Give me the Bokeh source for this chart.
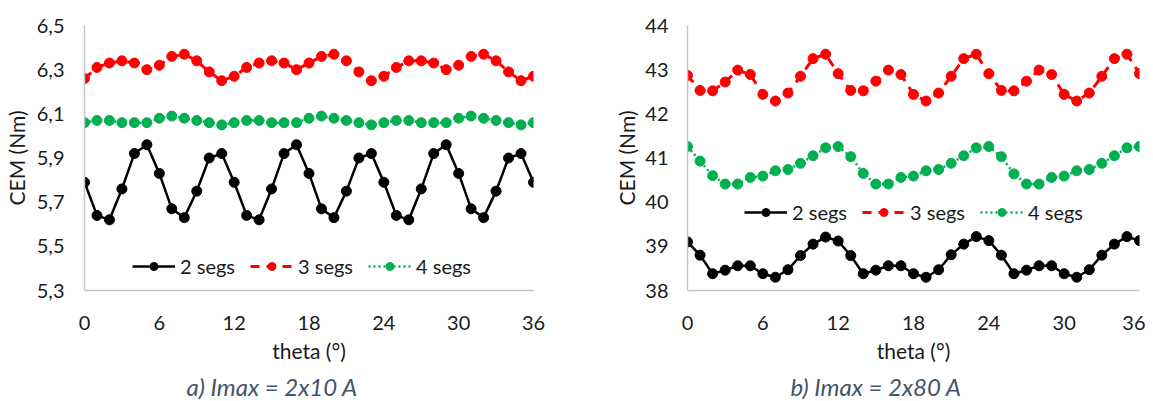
from bokeh.plotting import figure
from bokeh.layouts import row, column
from bokeh.models import (FixedTicker, CustomJSTickFormatter, Legend, LegendItem,
                          Range1d, ColumnDataSource)
from bokeh.core.properties import value
from bokeh.embed import file_html
from bokeh.resources import INLINE

theta = list(range(0, 37))

# a) Imax = 2x10 A
a_2segs = [5.79, 5.64, 5.62, 5.76, 5.92, 5.96, 5.83, 5.67, 5.63, 5.75, 5.90, 5.92,
           5.79, 5.64, 5.62, 5.76, 5.92, 5.96, 5.83, 5.67, 5.63, 5.75, 5.90, 5.92,
           5.79, 5.64, 5.62, 5.76, 5.92, 5.96, 5.83, 5.67, 5.63, 5.75, 5.90, 5.92, 5.79]
a_3segs = [6.26, 6.31, 6.33, 6.34, 6.33, 6.30, 6.32, 6.36, 6.37, 6.34, 6.29, 6.25,
           6.27, 6.31, 6.33, 6.34, 6.33, 6.30, 6.33, 6.36, 6.37, 6.34, 6.29, 6.25,
           6.27, 6.31, 6.34, 6.34, 6.33, 6.30, 6.32, 6.36, 6.37, 6.34, 6.29, 6.25, 6.27]
a_4segs = [6.06, 6.07, 6.07, 6.06, 6.06, 6.06, 6.08, 6.09, 6.08, 6.07, 6.06, 6.05,
           6.06, 6.07, 6.07, 6.06, 6.06, 6.06, 6.08, 6.09, 6.08, 6.07, 6.06, 6.05,
           6.06, 6.07, 6.07, 6.06, 6.06, 6.06, 6.08, 6.09, 6.08, 6.07, 6.06, 6.05, 6.06]

# b) Imax = 2x80 A
b_2segs = [39.10, 38.80, 38.38, 38.46, 38.56, 38.56, 38.38, 38.30, 38.47, 38.79, 39.05, 39.21,
           39.12, 38.79, 38.38, 38.46, 38.56, 38.56, 38.38, 38.30, 38.47, 38.81, 39.05, 39.22,
           39.13, 38.80, 38.38, 38.46, 38.56, 38.56, 38.38, 38.30, 38.47, 38.80, 39.05, 39.22, 39.13]
b_3segs = [42.87, 42.53, 42.52, 42.72, 42.99, 42.89, 42.44, 42.29, 42.47, 42.85, 43.25, 43.35,
           42.91, 42.53, 42.52, 42.74, 42.99, 42.89, 42.44, 42.29, 42.47, 42.85, 43.25, 43.35,
           42.91, 42.53, 42.52, 42.74, 42.99, 42.89, 42.44, 42.29, 42.47, 42.85, 43.25, 43.35, 42.91]
b_4segs = [41.26, 40.93, 40.60, 40.41, 40.41, 40.56, 40.59, 40.71, 40.74, 40.88, 41.05, 41.23,
           41.26, 41.03, 40.65, 40.41, 40.41, 40.56, 40.59, 40.71, 40.74, 40.88, 41.05, 41.23,
           41.26, 41.03, 40.64, 40.41, 40.41, 40.56, 40.59, 40.71, 40.74, 40.88, 41.05, 41.23, 41.26]

x_ticks = [0, 6, 12, 18, 24, 30, 36]
a_yticks = [5.3, 5.5, 5.7, 5.9, 6.1, 6.3, 6.5]
b_yticks = [38, 39, 40, 41, 42, 43, 44]
labels = ["2 segs", "3 segs", "4 segs"]
captions = ["a) Imax = 2x10 A", "b) Imax = 2x80 A"]

FONT = "Lato"
AXIS_GREY = "#C6C6C6"
TEXT = "#1a1a1a"
CAPTION = "#44546A"
H = 370          # chart figures
CAP_H = 31       # caption strip
W1, W2 = 576, 569


def make_chart(series, yr, yticks, comma, width, bl, br, bt, bb,
               legend_loc, ylab_standoff, ytick_standoff):
    p = figure(width=width, height=H, output_backend="svg", toolbar_location=None,
               x_range=Range1d(0, 36), y_range=Range1d(*yr),
               min_border_left=bl, min_border_right=br, min_border_top=bt,
               min_border_bottom=bb)
    p.outline_line_color = None
    p.grid.grid_line_color = None
    p.background_fill_color = "white"
    p.border_fill_color = "white"

    styles = [
        dict(color="#000000", dash="solid", width=2.5),
        dict(color="#FF0000", dash="9 7", width=3),
        dict(color="#00B050", dash="2 3", width=2.5),
    ]
    items = []
    for (ys, lab, st) in zip(series, labels, styles):
        src = ColumnDataSource(dict(x=theta, y=ys))
        ln = p.line("x", "y", source=src, line_color=st["color"], line_width=st["width"],
                    line_dash=st["dash"])
        sc = p.scatter("x", "y", source=src, size=10, marker="circle",
                       fill_color=st["color"], line_color=st["color"])
        items.append(LegendItem(label=lab, renderers=[ln, sc]))

    leg = Legend(items=items, orientation="horizontal", location=legend_loc,
                 border_line_color=None, background_fill_alpha=0,
                 label_text_font=FONT, label_text_font_size="20px",
                 label_text_color=TEXT, glyph_width=43, glyph_height=20,
                 label_standoff=5, spacing=15, padding=0, margin=0)
    p.add_layout(leg)

    p.xaxis.ticker = FixedTicker(ticks=x_ticks)
    p.yaxis.ticker = FixedTicker(ticks=yticks)
    if comma:
        p.yaxis.formatter = CustomJSTickFormatter(
            code="return tick.toFixed(1).replace('.', ',');")
    else:
        p.yaxis.formatter = CustomJSTickFormatter(code="return tick.toFixed(0);")

    for ax in (p.xaxis[0], p.yaxis[0]):
        ax.axis_line_color = AXIS_GREY
        ax.axis_line_width = 1.5
        ax.major_tick_line_color = None
        ax.minor_tick_line_color = None
        ax.major_tick_out = 0
        ax.major_tick_in = 0
        ax.minor_tick_out = 0
        ax.minor_tick_in = 0
        ax.major_label_text_font = FONT
        ax.major_label_text_font_size = "20px"
        ax.major_label_text_color = TEXT
        ax.axis_label_text_font = FONT
        ax.axis_label_text_font_size = "21px"
        ax.axis_label_text_font_style = "normal"
        ax.axis_label_text_color = TEXT

    p.xaxis.axis_label = "theta (°)"
    p.yaxis.axis_label = "CEM (Nm)"
    p.xaxis.major_label_standoff = 25
    p.xaxis.axis_label_standoff = 5
    p.yaxis.major_label_standoff = ytick_standoff
    p.yaxis.axis_label_standoff = ylab_standoff
    return p


p1 = make_chart([a_2segs, a_3segs, a_4segs], (5.3, 6.5), a_yticks, True,
                width=W1, bl=83, br=43, bt=25, bb=H - 25 - 265,
                legend_loc=(48, 12), ylab_standoff=5, ytick_standoff=20)
p2 = make_chart([b_2segs, b_3segs, b_4segs], (38, 44), b_yticks, False,
                width=W2, bl=111, br=6, bt=25, bb=H - 25 - 266,
                legend_loc=(57, 66), ylab_standoff=3, ytick_standoff=19)

# caption strip below the two charts (pixel-like coordinates)
pc = figure(width=W1 + W2, height=CAP_H, output_backend="svg", toolbar_location=None,
            x_range=Range1d(0, W1 + W2), y_range=Range1d(0, CAP_H),
            min_border=0, min_border_left=0, min_border_right=0,
            min_border_top=0, min_border_bottom=0)
pc.axis.visible = False
pc.grid.visible = False
pc.outline_line_color = None
pc.background_fill_color = "white"
pc.border_fill_color = "white"
cap_src = ColumnDataSource(dict(x=[186, 790], y=[CAP_H - 16, CAP_H - 16], t=captions))
pc.text("x", "y", text="t", source=cap_src, text_font=value(FONT),
        text_font_size="24px", text_font_style="italic", text_color=CAPTION,
        text_align="left", text_baseline="middle")

layout = column(row(p1, p2), pc)
open("out.html", "w").write(file_html(layout, INLINE))
